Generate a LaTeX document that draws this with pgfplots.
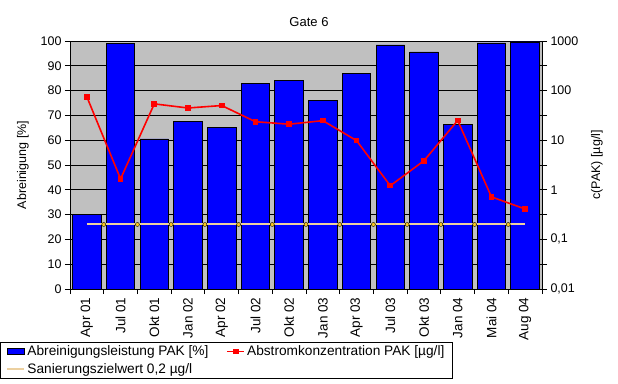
\documentclass[border=0pt]{standalone}
\usepackage{fontspec}
\setmainfont{Liberation Sans}
\usepackage{pgfplots}
\pgfplotsset{compat=1.18}
\definecolor{barblue}{RGB}{0,0,255}
\definecolor{plotgray}{RGB}{192,192,192}
\definecolor{zielline}{RGB}{236,208,160}
\definecolor{zielmark}{RGB}{250,200,30}
\definecolor{pakred}{RGB}{255,0,0}
\begin{document}
\begin{tikzpicture}
\useasboundingbox (0,0) rectangle (618pt,383pt);
\pgfplotsset{
  base/.style={
    at={(70pt,94pt)}, anchor=south west,
    scale only axis, width=472pt, height=248pt,
    xmin=-0.5, xmax=13.5,
    /pgf/number format/assume math mode=true,
    tick label style={font=\fontsize{12.5}{13}\selectfont},
    label style={font=\fontsize{12.5}{13}\selectfont},
    tick align=outside,
    major tick length=5pt,
    tick style={black, line width=0.8pt},
    axis line style={black, line width=0.8pt},
  }
}
\begin{axis}[base,
  axis background/.style={fill=plotgray},
  ymin=0, ymax=100, ytick={0,10,...,100},
  ymajorgrids, grid style={black, line width=0.8pt},
  axis y line*=left, axis x line*=bottom,
  xtick={-0.5,0.5,...,13.5},
  x tick label as interval,
  xticklabels={Apr 01,Jul 01,Okt 01,Jan 02,Apr 02,Jul 02,Okt 02,Jan 03,Apr 03,Jul 03,Okt 03,Jan 04,Mai 04,Aug 04},
  xticklabel style={rotate=90, anchor=east, font=\fontsize{13.5}{14}\selectfont},
  ylabel={Abreinigung [\%]},
  ylabel style={at={(axis description cs:-0.0996,0.5)}, anchor=center},
]
\addplot[ybar, bar width=28.5pt, fill=barblue, draw=black, line width=0.8pt]
  coordinates {(0,30) (1,99) (2,60.5) (3,67.7) (4,65) (5,83) (6,84) (7,76)
               (8,87) (9,98.4) (10,95.6) (11,66.5) (12,99.2) (13,99.6)};
\end{axis}
\begin{axis}[base,
  ymode=log, ymin=0.01, ymax=1000,
  axis y line*=right, axis x line=none,
  ytick={0.01,0.1,1,10,100,1000},
  yticklabels={{0,01},{0,1},1,10,100,1000},
  minor ytick={0.0316,0.316,3.16,31.6,316},
  minor tick length=5pt,
  ylabel={c(PAK) [µg/l]},
  ylabel style={at={(axis description cs:1.1165,0.5)}, anchor=center},
  legend columns=2,
  legend style={at={(axis description cs:-0.1483,-0.2137)}, anchor=north west,
    draw=black, line width=0.8pt, font=\fontsize{13.7}{15}\selectfont,
    /tikz/every even column/.append style={column sep=16pt},
    inner xsep=6pt, inner ysep=1.5pt, row sep=2pt,
    cells={anchor=west}},
]
\addlegendimage{area legend, fill=barblue, draw=black, line width=0.6pt}
\addlegendentry{Abreinigungsleistung PAK [\%]}
\addplot[pakred, line width=1.6pt, mark=square*, mark size=2pt, mark options={solid}]
  coordinates {(0,75) (1,1.66) (2,54) (3,44.6) (4,50) (5,23.6) (6,21) (7,24.8)
               (8,9.8) (9,1.21) (10,3.86) (11,25) (12,0.72) (13,0.41)};
\addlegendentry{Abstromkonzentration PAK [µg/l]}
\addplot[zielline, line width=2pt]
  coordinates {(0,0.2) (13,0.2)};
\addlegendentry{Sanierungszielwert 0,2 µg/l}
\addplot[only marks, mark=*, mark size=2pt, draw=none, fill=zielmark, forget plot]
  coordinates {(0.5,0.2) (1.5,0.2) (2.5,0.2) (3.5,0.2) (4.5,0.2) (5.5,0.2) (6.5,0.2)
               (7.5,0.2) (8.5,0.2) (9.5,0.2) (10.5,0.2) (11.5,0.2) (12.5,0.2)};
\end{axis}
\node[font=\fontsize{13}{14}\selectfont] at (309pt,361pt) {Gate 6};
\end{tikzpicture}
\end{document}
